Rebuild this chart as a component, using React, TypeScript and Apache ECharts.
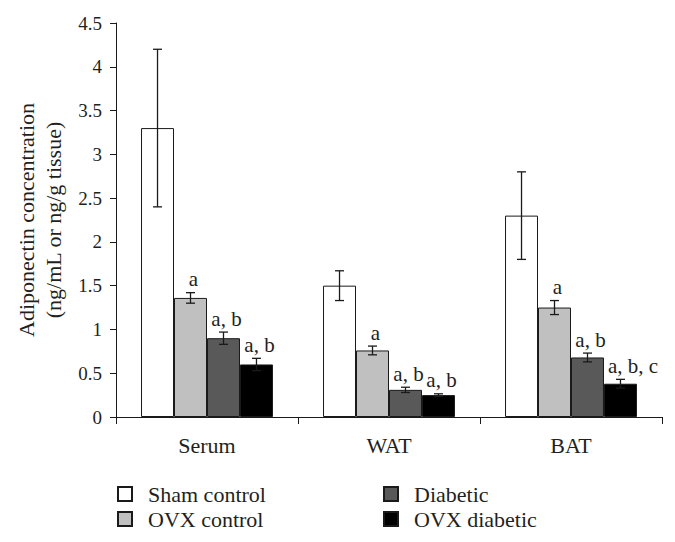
import React, { useEffect, useRef } from "react";
import * as echarts from "echarts";

const categories = ["Serum", "WAT", "BAT"];
const groupNames = ["Sham control", "OVX control", "Diabetic", "OVX diabetic"];
const shamControl = [3.3, 1.5, 2.3];
const shamControlErr = [0.9, 0.17, 0.5];
const ovxControl = [1.36, 0.76, 1.25];
const ovxControlErr = [0.06, 0.05, 0.08];
const diabetic = [0.9, 0.31, 0.68];
const diabeticErr = [0.07, 0.03, 0.05];
const ovxDiabetic = [0.6, 0.25, 0.38];
const ovxDiabeticErr = [0.07, 0.015, 0.05];
const shamLabels = ["", "", ""];
const ovxControlLabels = ["a", "a", "a"];
const diabeticLabels = ["a, b", "a, b", "a, b"];
const ovxDiabeticLabels = ["a, b", "a, b", "a, b, c"];
const yTicks = [0, 0.5, 1, 1.5, 2, 2.5, 3, 3.5, 4, 4.5];

const groupValues = [shamControl, ovxControl, diabetic, ovxDiabetic];
const groupErrs = [shamControlErr, ovxControlErr, diabeticErr, ovxDiabeticErr];
const groupLabels = [shamLabels, ovxControlLabels, diabeticLabels, ovxDiabeticLabels];
const groupColors = ["#ffffff", "#c0c0c0", "#595959", "#000000"];

const FONT = "'Liberation Serif', 'Times New Roman', serif";
const TEXT = "#231f20";
const CAT_GAP = 0.275;

export default function App() {
  const ref = useRef<HTMLDivElement>(null);
  useEffect(() => {
    if (!ref.current) return;
    const chart = echarts.init(ref.current, null, { renderer: "svg" });

    const errData: any[] = [];
    const errText: string[] = [];
    groupValues.forEach((vals, g) => {
      vals.forEach((v, c) => {
        errData.push([c, v, groupErrs[g][c], g]);
        errText.push(groupLabels[g][c]);
      });
    });

    const barSeries = groupNames.map((name, g) => ({
      name,
      type: "bar",
      data: groupValues[g],
      barGap: "0%",
      barCategoryGap: CAT_GAP * 100 + "%",
      itemStyle: { color: groupColors[g], borderColor: "#1a1a1a", borderWidth: 1 },
    }));

    const legendBase = {
      orient: "vertical",
      top: 483,
      padding: 0,
      itemWidth: 14,
      itemHeight: 14,
      itemGap: 3,
      icon: "rect",
      textStyle: { fontSize: 22, color: TEXT, fontFamily: FONT, lineHeight: 22, padding: [0, 0, 0, 11] },
    };

    const option: any = {
      animation: false,
      textStyle: { fontFamily: FONT },
      grid: { left: 116, right: 13, top: 23, bottom: 125, containLabel: false },
      xAxis: {
        type: "category",
        data: categories,
        axisLine: { lineStyle: { color: "#1a1a1a", width: 1 } },
        axisTick: { show: true, length: 7, lineStyle: { color: "#1a1a1a" } },
        axisLabel: { fontSize: 22, color: TEXT, fontFamily: FONT, margin: 17 },
      },
      yAxis: {
        type: "value",
        min: 0,
        max: 4.5,
        interval: 0.5,
        splitLine: { show: false },
        axisLine: { show: true, lineStyle: { color: "#1a1a1a", width: 1 } },
        axisTick: { show: true, length: 6, lineStyle: { color: "#1a1a1a" } },
        axisLabel: {
          fontSize: 19,
          color: TEXT,
          fontFamily: FONT,
          margin: 14,
          formatter: (v: number) => String(yTicks.find((t) => Math.abs(t - v) < 1e-9) ?? v),
        },
      },
      legend: [
        { ...legendBase, data: [groupNames[0], groupNames[1]], left: 117 },
        { ...legendBase, data: [groupNames[2], groupNames[3]], left: 383 },
      ],
      graphic: [
        {
          type: "text",
          x: 40,
          y: 220,
          rotation: Math.PI / 2,
          style: {
            text: "Adiponectin concentration\n(ng/mL or ng/g tissue)",
            font: "22px " + FONT,
            fill: TEXT,
            align: "center",
            verticalAlign: "middle",
            lineHeight: 27,
          },
        },
      ],
      series: [
        ...barSeries,
        {
          type: "custom",
          data: errData,
          z: 10,
          renderItem: (params: any, api: any) => {
            const c = api.value(0);
            const mean = api.value(1);
            const err = api.value(2);
            const g = api.value(3);
            const center = api.coord([c, 0])[0];
            const band = api.size([1, 0])[0];
            const bw = (band * (1 - CAT_GAP)) / 4;
            const x = center + (g - 1.5) * bw;
            const top = api.coord([c, mean + err])[1];
            const bot = api.coord([c, mean - err])[1];
            const cap = 4.5;
            const label = errText[params.dataIndex];
            const children: any[] = [
              { type: "line", shape: { x1: x, y1: top, x2: x, y2: bot }, style: { stroke: "#1a1a1a", lineWidth: 1.3 } },
              { type: "line", shape: { x1: x - cap, y1: top, x2: x + cap, y2: top }, style: { stroke: "#1a1a1a", lineWidth: 1.3 } },
              { type: "line", shape: { x1: x - cap, y1: bot, x2: x + cap, y2: bot }, style: { stroke: "#1a1a1a", lineWidth: 1.3 } },
            ];
            if (label) {
              const wide = label.length > 4;
              children.push({
                type: "text",
                x: wide ? x - bw / 2 + 4 : x + 3,
                y: top - 3,
                style: {
                  text: label,
                  font: "21px " + FONT,
                  fill: TEXT,
                  align: wide ? "left" : "center",
                  verticalAlign: "bottom",
                },
              });
            }
            return { type: "group", children };
          },
        },
      ],
    };
    chart.setOption(option);
    return () => chart.dispose();
  }, []);
  return <div ref={ref} style={{ width: 675, height: 542, position: "absolute", left: 0, top: 0, background: "#fff" }} />;
}
